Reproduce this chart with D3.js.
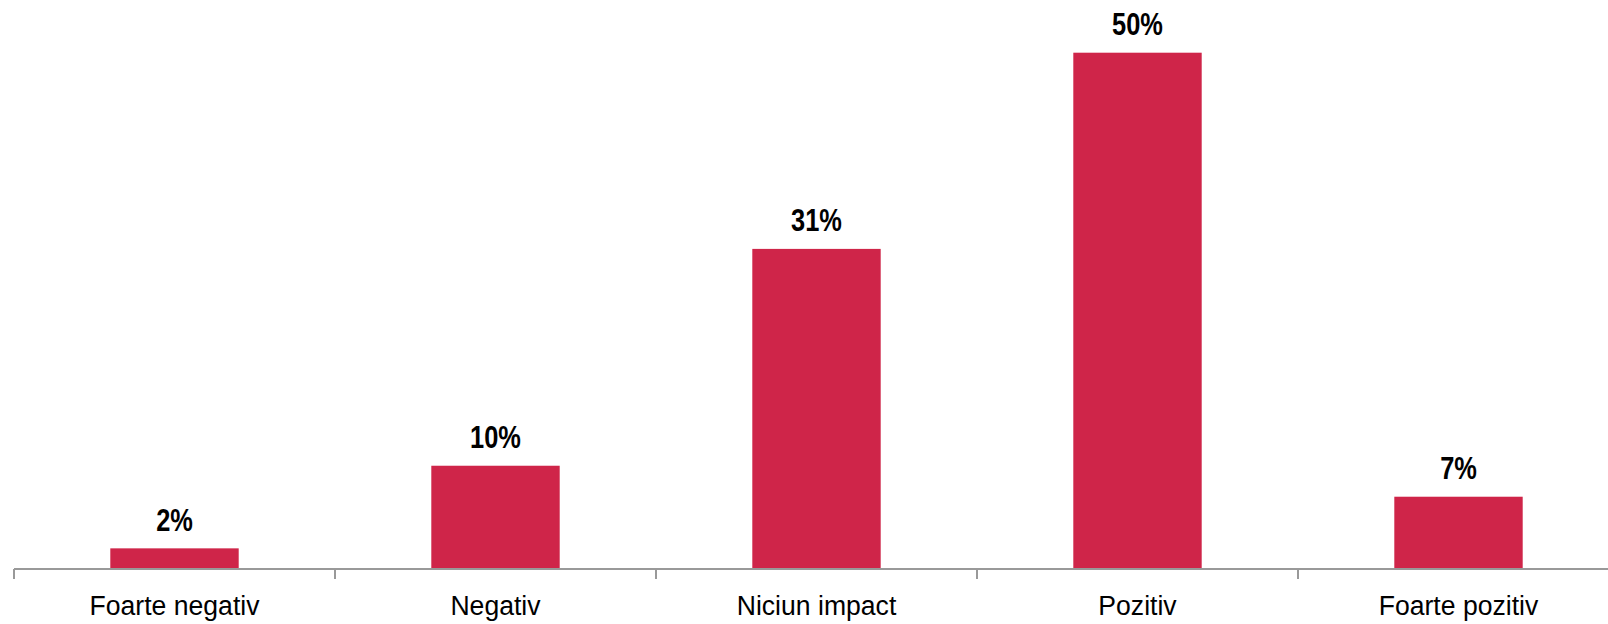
<!DOCTYPE html>
<html>
<head>
<meta charset="utf-8">
<script src="https://cdn.jsdelivr.net/npm/d3@7"></script>
<style>
  html, body { margin: 0; padding: 0; background: #fff; }
  svg { display: block; font-family: 'Liberation Sans Narrow', 'Arial Narrow', 'Liberation Sans', sans-serif; }
</style>
</head>
<body>
<svg id="chart" width="1608" height="624"></svg>
<script>
// data
const categories = ['Foarte negativ', 'Negativ', 'Niciun impact', 'Pozitiv', 'Foarte pozitiv'];
const values = [2, 10, 31, 50, 7];
const valueLabels = ['2%', '10%', '31%', '50%', '7%'];

let width = 1608, height = 624;
let left = 14, step = 321, baseY = 569, topY = 52.7;
// squeeze text horizontally, the original uses a condensed face
let narrowBold = 0.82, narrowCat = 0.95;

const svg = d3.select('#chart');

// outer band scale (ticks at the boundaries)
let xOuter = d3.scaleBand()
  .domain(categories)
  .range([left, left + step * categories.length])
  .padding(0);

let x = d3.scaleBand()
  .domain(categories)
  .range([left, left + step * categories.length])
  .paddingInner(0.6)
  .paddingOuter(0.3);

let y = d3.scaleLinear()
  .domain([0, d3.max(values)])
  .range([baseY, topY]);

// bars
svg.append('g')
  .selectAll('rect')
  .data(categories)
  .enter()
  .append('rect')
  .attr('x', d => x(d))
  .attr('y', (d, i) => y(values[i]))
  .attr('width', x.bandwidth())
  .attr('height', (d, i) => y(0) - y(values[i]))
  .attr('fill', '#cf2549');

// value labels
svg.append('g')
  .selectAll('text')
  .data(categories)
  .enter()
  .append('text')
  .attr('transform', (d, i) => `translate(${x(d) + x.bandwidth() / 2},${y(values[i]) - 17.5}) scale(${narrowBold},1)`)
  .attr('text-anchor', 'middle')
  .attr('font-weight', 'bold')
  .attr('font-size', 31)
  .attr('fill', '#000')
  .text((d, i) => valueLabels[i]);

// axis
let axis = svg.append('g');
axis.append('line')
  .attr('x1', left)
  .attr('x2', width)
  .attr('y1', y(0))
  .attr('y2', y(0))
  .attr('stroke', '#999')
  .attr('stroke-width', 2);

let tickPos = categories.map(c => xOuter(c)).concat([xOuter(categories[categories.length - 1]) + xOuter.bandwidth()]);
axis.selectAll('line.tick')
  .data(tickPos)
  .enter()
  .append('line')
  .attr('class', 'tick')
  .attr('x1', d => d)
  .attr('x2', d => d)
  .attr('y1', y(0))
  .attr('y2', y(0) + 10)
  .attr('stroke', '#999')
  .attr('stroke-width', 2);

axis.selectAll('text')
  .data(categories)
  .enter()
  .append('text')
  .attr('transform', d => `translate(${xOuter(d) + xOuter.bandwidth() / 2},615) scale(${narrowCat},1)`)
  .attr('text-anchor', 'middle')
  .attr('font-size', 28)
  .attr('fill', '#000')
  .text(d => d);
</script>
</body>
</html>
